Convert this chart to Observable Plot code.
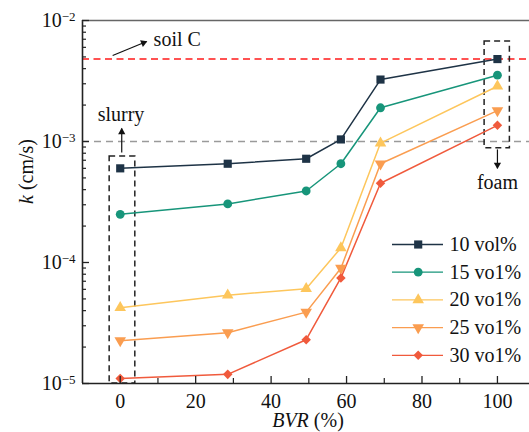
<!DOCTYPE html>
<html><head><meta charset="utf-8">
<script src="https://cdn.jsdelivr.net/npm/d3@7"></script>
<script src="https://cdn.jsdelivr.net/npm/@observablehq/plot@0.6"></script>
<style>body{margin:0;background:#fff;}</style></head><body><div id="chart"></div>
<script>
// ---- data ----
const bvr = [0, 28.5, 49.3, 58.5, 69, 100];
const series = ["10 vol%", "15 vo1%", "20 vo1%", "25 vo1%", "30 vo1%"];
const k10 = [6.0e-4, 6.55e-4, 7.2e-4, 1.04e-3, 3.25e-3, 4.8e-3];
const k15 = [2.5e-4, 3.05e-4, 3.9e-4, 6.55e-4, 1.9e-3, 3.53e-3];
const k20 = [4.23e-5, 5.37e-5, 6.07e-5, 1.32e-4, 9.7e-4, 2.86e-3];
const k25 = [2.26e-5, 2.63e-5, 3.89e-5, 8.97e-5, 6.55e-4, 1.8e-3];
const k30 = [1.1e-5, 1.19e-5, 2.3e-5, 7.46e-5, 4.52e-4, 1.36e-3];
const kValues = [k10, k15, k20, k25, k30];
const soilC = 4.8e-3;
const refK = 1e-3;
const xTicks = [0, 20, 40, 60, 80, 100];
const xMinor = [10, 30, 50, 70, 90];
const yTicks = [1e-5, 1e-4, 1e-3, 1e-2];
const yMinor = yTicks.slice(0, 3).flatMap(d => [2,3,4,5,6,7,8,9].map(m => m * d));
const xDomain = [-10, 108.5];
const yDomain = [1e-5, 1e-2];
const slurryBox = [{x1: -2.8, x2: 4, y1: 1e-5, y2: 7.5e-4}];
const foamBox = [{x1: 96.6, x2: 103.3, y1: 8.8e-4, y2: 6.7e-3}];
const centerLabels = [
  {x: 0.2, y: 1.68e-3, text: "slurry"},
  {x: 100, y: 4.61e-4, text: "foam"}
];
const startLabels = [
  {x: 8.85, y: 6.89e-3, text: "soil C"}
];
const arrows = [
  {x1: 0.4, y1: 8.1e-4, x2: 0.4, y2: 1.28e-3, rot: 0, hdx: 0, hdy: 3.5},
  {x1: 100, y1: 8.6e-4, x2: 100, y2: 6.0e-4, rot: 180, hdx: 0, hdy: -3.5},
  {x1: -2.0, y1: 5.14e-3, x2: 7.0, y2: 6.7e-3, rot: 67.6, hdx: -3.2, hdy: 1.3}
];

// ---- style ----
const FONT = "Liberation Serif";
const colors = ["#1e3346", "#17957a", "#fdc65c", "#fa9d50", "#f05a3c"];
const symbols = ["square", "circle", "triangle", "triangle", "diamond2"];
const rotations = [0, 0, 0, 180, 0];
const radii = [4.6, 4.4, 4.3, 4.3, 4.3];
const W = 529, H = 432, ML = 82, MR = 0, MT = 20, MB = 49;
const FW = W - ML - MR, FH = H - MT - MB;
const FS = 20;

const rows = series.flatMap((s, i) => bvr.map((x, j) => ({series: s, i, x, k: kValues[i][j]})));

const marks = [
  Plot.ruleY([refK], {stroke: "#9a9a9a", strokeWidth: 1.3, strokeDasharray: "7,5"}),
  Plot.ruleY([soilC], {stroke: "#ff1a1a", strokeWidth: 1.5, strokeDasharray: "7,4.5"}),
  Plot.rect(slurryBox, {x1: "x1", x2: "x2", y1: "y1", y2: "y2", fill: "none", stroke: "#222", strokeWidth: 1.5, strokeDasharray: "6,4"}),
  Plot.rect(foamBox, {x1: "x1", x2: "x2", y1: "y1", y2: "y2", fill: "none", stroke: "#222", strokeWidth: 1.5, strokeDasharray: "6,4"}),
  Plot.link(arrows, {x1: "x1", y1: "y1", x2: "x2", y2: "y2", stroke: "#111", strokeWidth: 1.2}),
  ...arrows.map(a => Plot.dot([a], {x: "x2", y: "y2", symbol: "triangle", r: 2.7, fill: "#111", stroke: "none", rotate: a.rot, dx: a.hdx, dy: a.hdy})),
  Plot.text(centerLabels, {x: "x", y: "y", text: "text", textAnchor: "middle", fontSize: FS, fontFamily: FONT, fill: "#111"}),
  Plot.text(startLabels, {x: "x", y: "y", text: "text", textAnchor: "start", fontSize: FS, fontFamily: FONT, fill: "#111"}),
];
series.forEach((s, i) => {
  const data = rows.filter(d => d.i === i);
  marks.push(Plot.line(data, {x: "x", y: "k", stroke: colors[i], strokeWidth: 1.5}));
});
series.forEach((s, i) => {
  const data = rows.filter(d => d.i === i);
  marks.push(Plot.dot(data, {x: "x", y: "k", symbol: symbols[i], r: radii[i], fill: colors[i], stroke: "none", rotate: rotations[i]}));
});
// legend
const legTop = 224, legStep = 27.7;
series.forEach((s, i) => {
  const dy = legTop + i * legStep;
  marks.push(Plot.ruleY([yDomain[1]], {dy, insetLeft: 392 - ML, insetRight: W - 443, stroke: colors[i], strokeWidth: 1.3}));
  marks.push(Plot.dot([s], {frameAnchor: "top-left", dx: 417.7 - ML, dy, symbol: symbols[i], r: radii[i], fill: colors[i], stroke: "none", rotate: rotations[i]}));
  marks.push(Plot.text([s], {frameAnchor: "top-left", dx: 449 - ML, dy, text: d => d, textAnchor: "start", lineAnchor: "middle", fontSize: FS, fontFamily: FONT, fill: "#111"}));
});
// frame lines & ticks
marks.push(
  Plot.ruleX([xDomain[0]], {stroke: "#222", strokeWidth: 1.6}),
  Plot.ruleY([yDomain[0]], {stroke: "#222", strokeWidth: 1.6}),
  Plot.ruleY([yDomain[1]], {stroke: "#666", strokeWidth: 1.6}),
  Plot.tickY(yTicks, {y: d => d, insetRight: FW - 7, stroke: "#222", strokeWidth: 1.3}),
  Plot.tickY(yMinor, {y: d => d, insetRight: FW - 4, stroke: "#222", strokeWidth: 1.2}),
  Plot.tickX(xTicks, {x: d => d, insetTop: FH - 7, stroke: "#222", strokeWidth: 1.3}),
  Plot.tickX(xMinor, {x: d => d, insetTop: FH - 5, stroke: "#222", strokeWidth: 1.2}),
  Plot.axisY({ticks: yTicks, tickSize: 0, tickPadding: 7, tickFormat: d => "10^" + Math.round(Math.log10(d)), label: null, fontSize: FS, fontFamily: FONT, fill: "#111"}),
  Plot.axisX({ticks: xTicks, tickSize: 0, tickPadding: 10, label: null, fontSize: FS, fontFamily: FONT, fill: "#111"}),
  Plot.text(["k (cm/s)"], {frameAnchor: "left", dx: -56.4, dy: 2, rotate: -90, text: d => d, fontSize: FS, fontFamily: FONT, fill: "#111"}),
  Plot.text(["BVR (%)"], {frameAnchor: "bottom", dx: 2, dy: 36.6, lineAnchor: "middle", text: d => d, fontSize: FS, fontFamily: FONT, fill: "#111"})
);

const plot = Plot.plot({
  width: W, height: H,
  marginLeft: ML, marginRight: MR, marginTop: MT, marginBottom: MB,
  x: {domain: xDomain, axis: null},
  y: {type: "log", domain: yDomain, axis: null},
  marks
});
// font rule carried inside the SVG itself
plot.setAttribute("font-family", FONT);
const ns = "http://www.w3.org/2000/svg";
const st = document.createElementNS(ns, "style");
st.textContent = "text, tspan { font-family: 'Liberation Serif', 'Times New Roman', Times, serif !important; }";
plot.insertBefore(st, plot.firstChild);
document.getElementById("chart").appendChild(plot);

// superscript exponents on y tick labels
d3.select(plot).selectAll("text").each(function() {
  const m = this.textContent.match(/^10\^(-?\d+)$/);
  if (!m) return;
  const sel = d3.select(this);
  this.textContent = "";
  sel.append("tspan").text("10");
  sel.append("tspan").attr("dy", "-0.42em").attr("font-size", "13px").text(m[1].replace("-", "\u2212"));
});
// italic variable names in axis labels
function italicize(full, ital, rest) {
  d3.select(plot).selectAll("text").filter(function() { return this.textContent === full; }).each(function() {
    const sel = d3.select(this);
    this.textContent = "";
    sel.append("tspan").attr("font-style", "italic").text(ital);
    sel.append("tspan").text(rest);
  });
}
italicize("k (cm/s)", "k", " (cm/s)");
italicize("BVR (%)", "BVR", " (%)");
</script></body></html>
